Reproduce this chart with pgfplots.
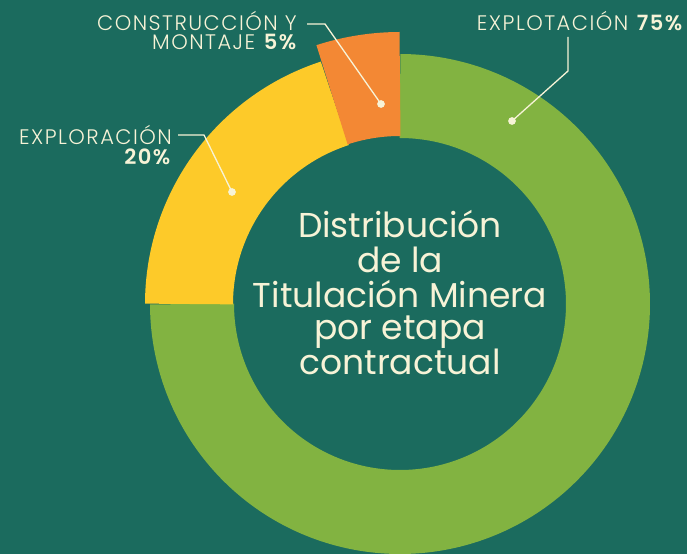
\documentclass[border=0pt]{standalone}
\usepackage{pgfplots}
\pgfplotsset{compat=1.18}
\usepackage{fontspec}
\setmainfont{Poppins}[UprightFont=* Light, BoldFont=* SemiBold]
\newfontfamily\titlefont{Poppins}
\definecolor{bgc}{HTML}{1B6B5E}
\definecolor{cgreen}{HTML}{82B341}
\definecolor{cyellow}{HTML}{FDCA29}
\definecolor{corange}{HTML}{F38834}
\definecolor{cream}{HTML}{F7F3D7}
% values (percent)
\def\vExplot{75}
\def\vExplor{20}
\def\vConst{5}
\tikzset{lab/.style={anchor=base east, text=cream, inner sep=0pt,
  font=\fontsize{21}{20}\selectfont\addfontfeatures{LetterSpace=7}},
  ttl/.style={anchor=base, text=cream, inner sep=0pt,
  font=\titlefont\fontsize{34.5}{35}\selectfont}}
\begin{document}
\begin{tikzpicture}
\fill[bgc] (0,0) rectangle (687pt,554pt);
\begin{axis}[
  scale only axis, width=687pt, height=554pt,
  xmin=0, xmax=687, ymin=0, ymax=554,
  hide axis, clip=false,
]
% Explotacion 75%: from 90 clockwise
\addplot[draw=cgreen, line width=84pt, domain={90-3.6*\vExplot}:90, samples=240, variable=\t]
  ({400+208*cos(\t)}, {250+208*sin(\t)});
% Exploracion 20%
\addplot[draw=cyellow, line width=88pt, domain={180-3.6*\vExplor}:180, samples=80, variable=\t]
  ({400+211*cos(\t)}, {250+211*sin(\t)});
% Construccion y montaje 5%
\addplot[draw=corange, line width=104pt, domain={90}:{90+3.6*\vConst}, samples=30, variable=\t]
  ({400+220*cos(\t)}, {250+220*sin(\t)});
% leader lines
\addplot[cream, line width=1.3pt] coordinates {(568,517) (568,483) (512,433)};
\addplot[cream, line width=1.3pt] coordinates {(307,530) (325,530) (381,450)};
\addplot[cream, line width=1.3pt] coordinates {(178,419) (204,419) (232,362)};
\addplot[only marks, mark=*, mark size=3.6pt, cream] coordinates {(512,433) (381,450) (232,362)};
% labels
\node[lab] at (axis cs:684,523) {EXPLOTACIÓN \textbf{75\%}};
\node[lab] at (axis cs:297,523) {CONSTRUCCIÓN Y};
\node[lab] at (axis cs:298,504) {MONTAJE \textbf{5\%}};
\node[lab] at (axis cs:172,409) {EXPLORACIÓN};
\node[lab] at (axis cs:172,389) {\textbf{20\%}};
% center title
\node[ttl] at (axis cs:400,316) {Distribución};
\node[ttl] at (axis cs:400,281) {de la};
\node[ttl] at (axis cs:400,246) {Titulación Minera};
\node[ttl] at (axis cs:400,214) {por etapa};
\node[ttl] at (axis cs:400,179) {contractual};
\end{axis}
\end{tikzpicture}
\end{document}
